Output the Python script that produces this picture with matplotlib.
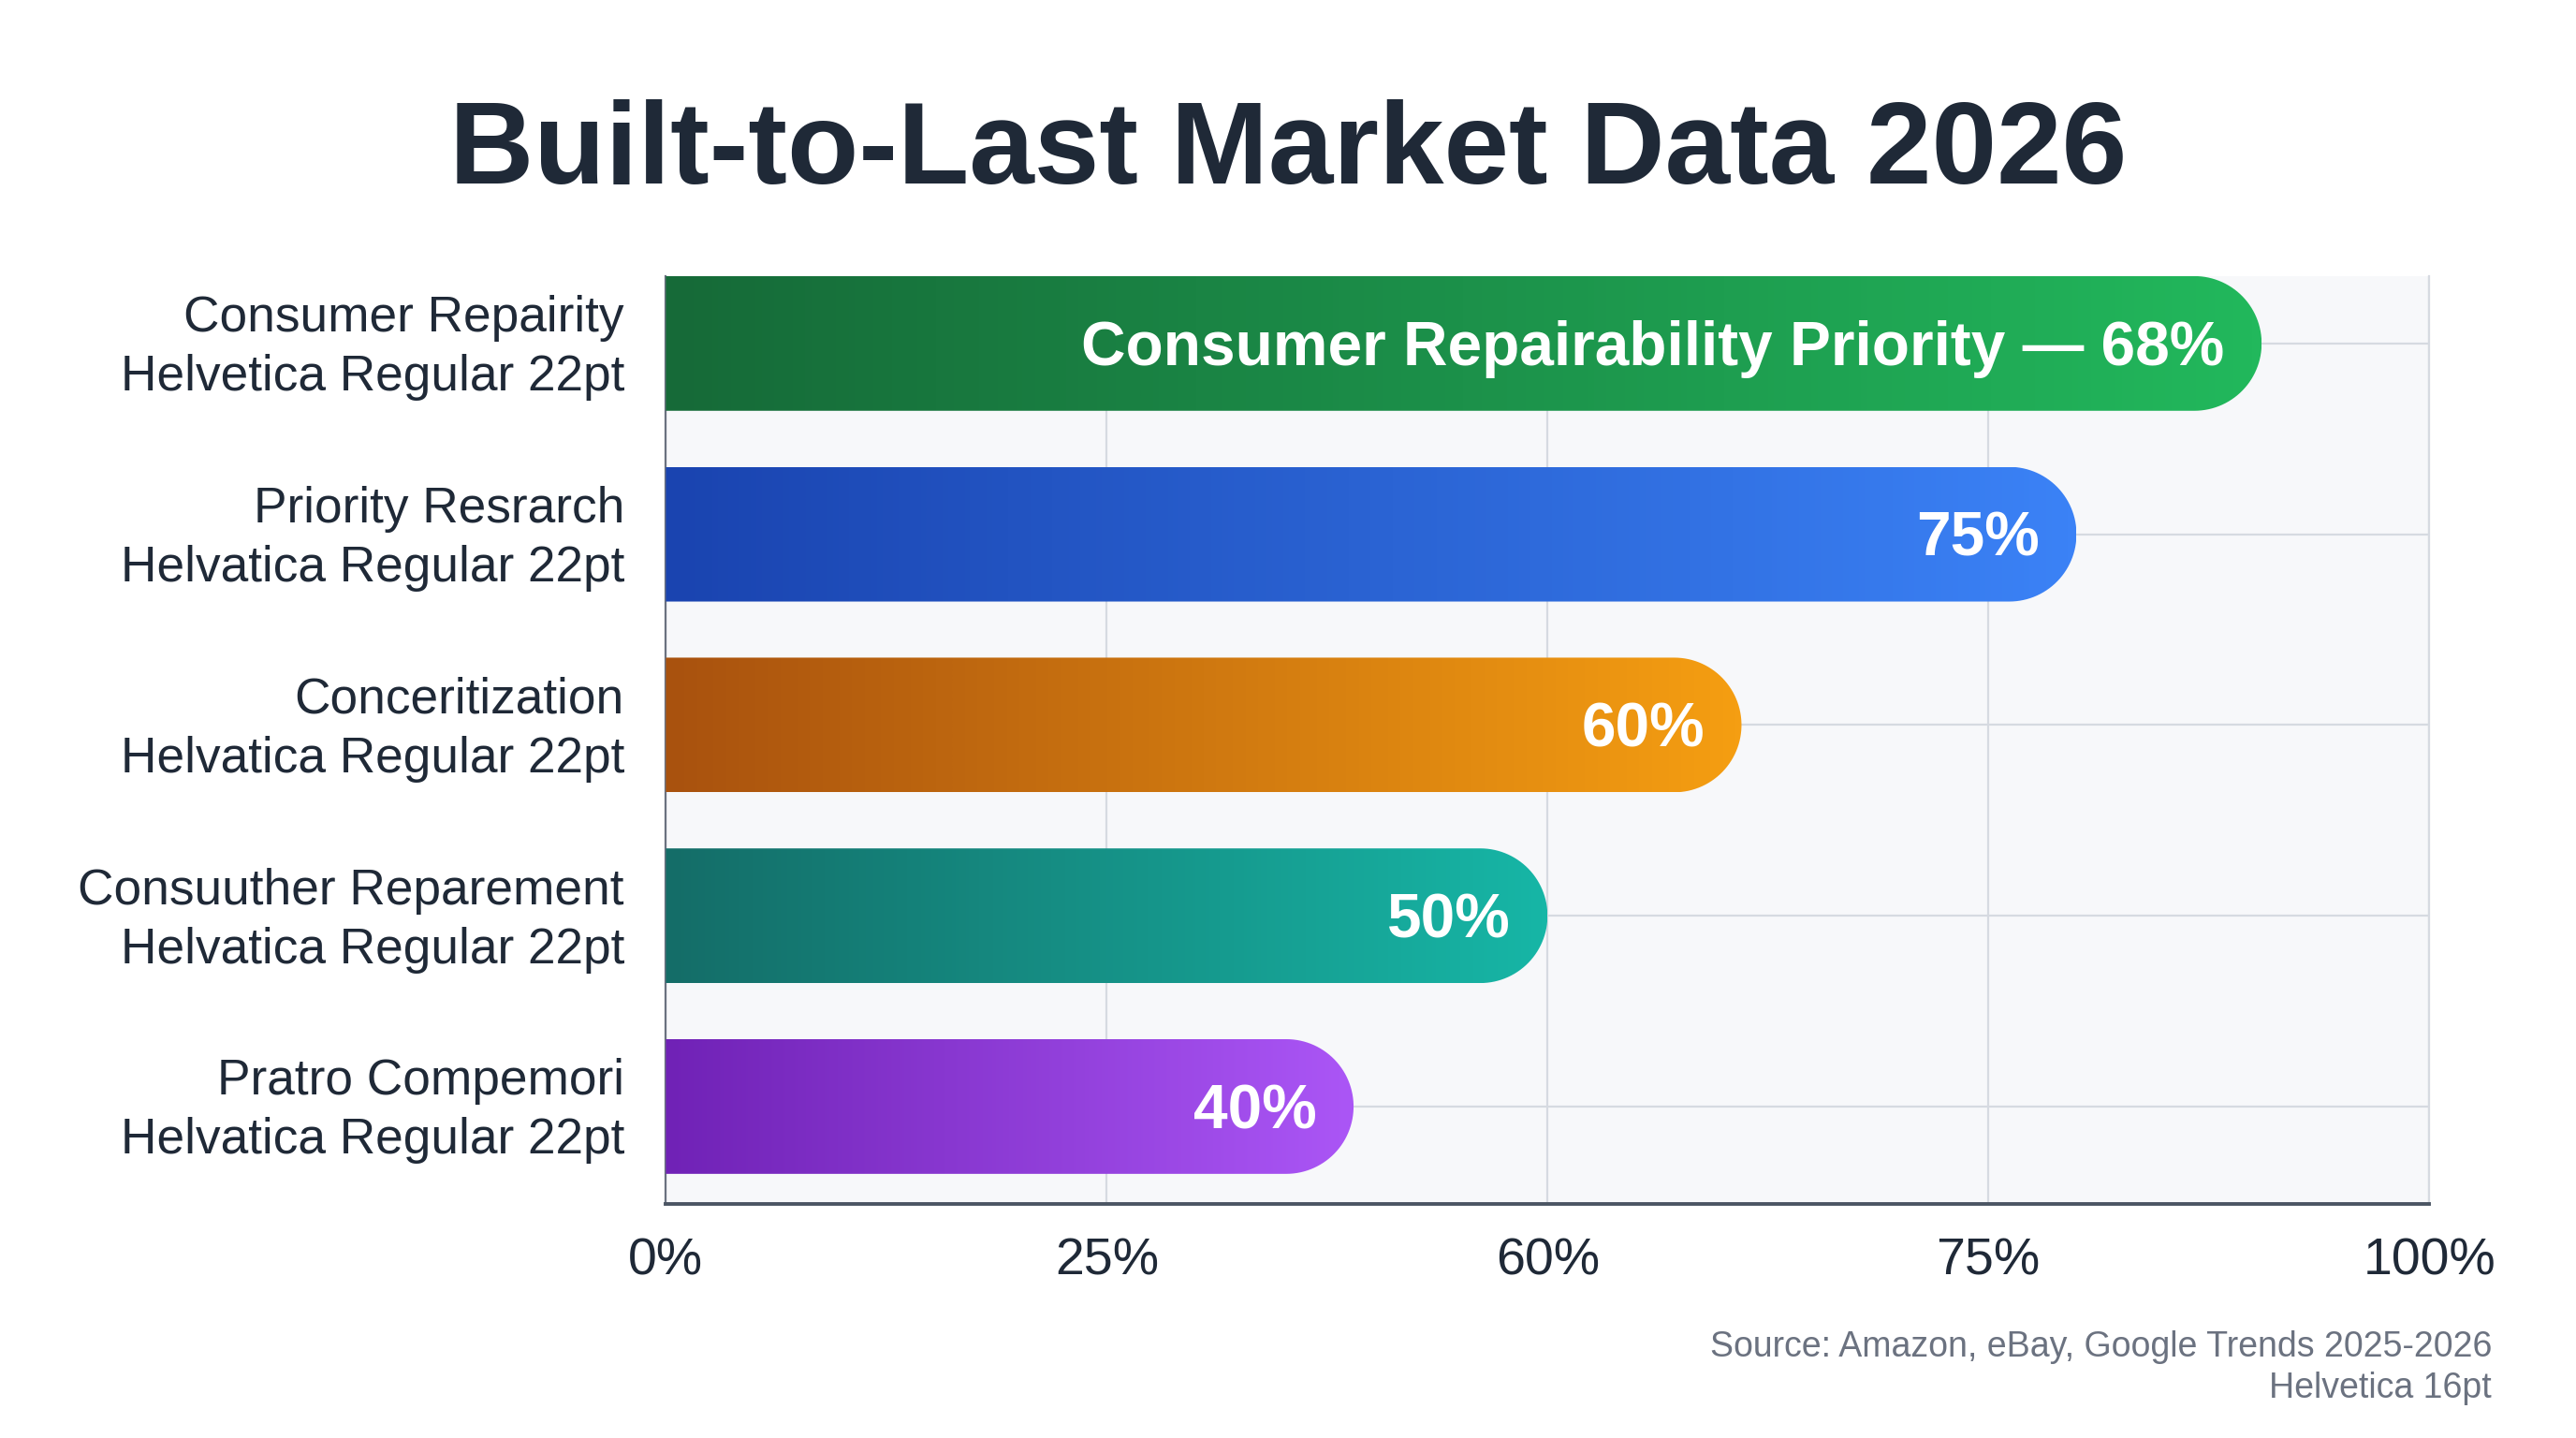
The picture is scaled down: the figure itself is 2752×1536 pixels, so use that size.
import matplotlib
matplotlib.use('Agg')
import matplotlib.pyplot as plt
import matplotlib.transforms as mtransforms
import numpy as np
from matplotlib.path import Path
from matplotlib.patches import PathPatch
from matplotlib.colors import LinearSegmentedColormap

plt.rcParams['font.family'] = ['Liberation Sans', 'DejaVu Sans']

categories = [
    'Consumer Repairity\nHelvetica Regular 22pt',
    'Priority Resrarch\nHelvatica Regular 22pt',
    'Conceritization\nHelvatica Regular 22pt',
    'Consuuther Reparement\nHelvatica Regular 22pt',
    'Pratro Compemori\nHelvatica Regular 22pt',
]
values = [90.5, 80, 61, 50, 39]
bar_labels = ['Consumer Repairability Priority \u2014 68%', '75%', '60%', '50%', '40%']
x_ticks = [0, 25, 50, 75, 100]
x_tick_labels = ['0%', '25%', '60%', '75%', '100%']
colors_left = ['#166a38', '#1a44b0', '#a9520e', '#146d68', '#7022b6']
colors_right = ['#22b85c', '#3b82f6', '#f59e12', '#17b6a6', '#ab56f6']

dark = '#1f2937'
grid_c = '#d6dae1'

fig = plt.figure(figsize=(13.76, 7.68), dpi=200)
ax = fig.add_axes([0.2585, 0.163, 0.6845, 0.645])
ax.set_facecolor('#f7f8fa')

y = np.arange(len(categories))
h = 0.706
bars = ax.barh(y, values, height=h, color='none', edgecolor='none', zorder=3)

ax.set_xlim(0, 100)
ax.set_ylim(4.509, -0.353)

ax.set_xticks(x_ticks)
ax.set_xticklabels(x_tick_labels, fontsize=20, color=dark)
ax.set_yticks(y)
ax.set_yticklabels(categories, fontsize=19.2, color=dark, linespacing=1.33)
ax.tick_params(axis='both', length=0)
ax.tick_params(axis='x', pad=13)
ax.tick_params(axis='y', pad=16)
shift = mtransforms.ScaledTranslation(0, 0.035, fig.dpi_scale_trans)
for lab in ax.get_yticklabels():
    lab.set_transform(lab.get_transform() + shift)

ax.grid(True, color=grid_c, lw=0.8, zorder=0)
ax.set_axisbelow(True)
ax.spines['top'].set_visible(False)
ax.spines['right'].set_color(grid_c)
ax.spines['right'].set_linewidth(0.8)
ax.spines['left'].set_color('#6b7280')
ax.spines['left'].set_linewidth(0.8)
ax.spines['bottom'].set_color('#4b5563')
ax.spines['bottom'].set_linewidth(1.4)

# pixel aspect so the bar end is a true half circle
fig.canvas.draw()
p0 = ax.transData.transform((0, 0))
p1 = ax.transData.transform((1, 1))
px_per_x = abs(p1[0] - p0[0])
px_per_y = abs(p1[1] - p0[1])

grad = np.linspace(0, 1, 256).reshape(1, -1)
for i, rect in enumerate(bars):
    x0 = rect.get_x()
    w = rect.get_width()
    yb = rect.get_y()
    hh = rect.get_height()
    ry = hh / 2
    rx = ry * px_per_y / px_per_x
    yc = yb + ry
    cx = x0 + w - rx
    t = np.linspace(-np.pi / 2, np.pi / 2, 60)
    arc = np.column_stack([cx + rx * np.cos(t), yc + ry * np.sin(t)])
    verts = np.vstack([[x0, yb], arc, [x0, yb + hh], [x0, yb]])
    patch = PathPatch(Path(verts), facecolor='none', edgecolor='none')
    ax.add_patch(patch)
    cmap = LinearSegmentedColormap.from_list('g%d' % i, [colors_left[i], colors_right[i]])
    im = ax.imshow(grad, cmap=cmap, aspect='auto', extent=[x0, x0 + w, yb + hh, yb],
                   zorder=3, interpolation='bicubic')
    im.set_clip_path(patch)
    ax.text(x0 + w - 2.1, yc + 0.03, bar_labels[i], ha='right', va='center', color='white',
            fontsize=23.7, fontweight='bold', zorder=4)

ax.set_xlim(0, 100)
ax.set_ylim(4.509, -0.353)

fig.text(0.5, 0.893, 'Built-to-Last Market Data 2026', ha='center', va='center',
         fontsize=45, fontweight='bold', color=dark)
fig.text(0.9673, 0.049, 'Source: Amazon, eBay, Google Trends 2025-2026\nHelvetica 16pt',
         ha='right', va='center', fontsize=13.5, color='#6b7280', linespacing=1.3)

fig.savefig('out.png', dpi=200, facecolor='white')
